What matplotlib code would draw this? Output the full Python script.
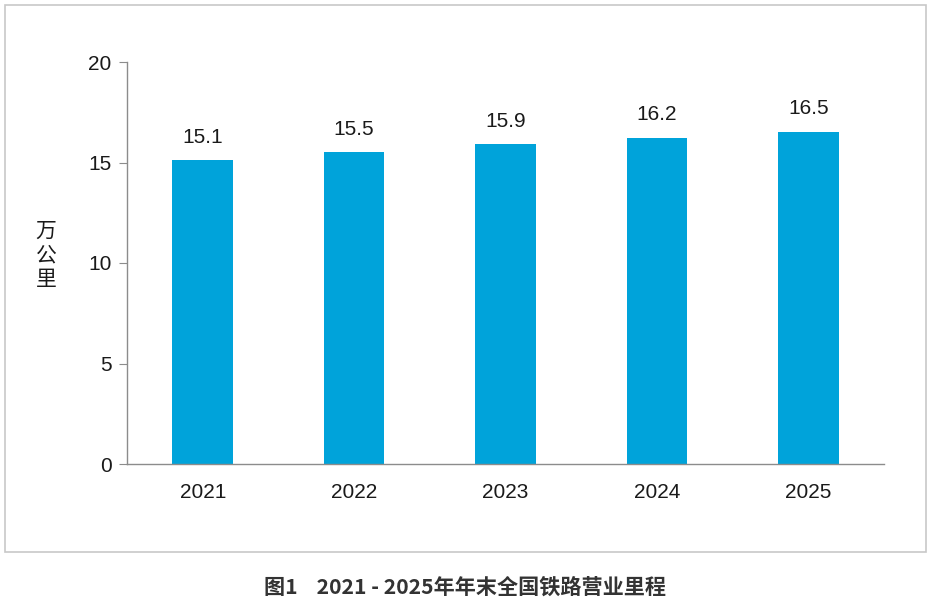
import matplotlib
matplotlib.use("Agg")
import matplotlib.pyplot as plt
from matplotlib.patches import Rectangle

years = ["2021", "2022", "2023", "2024", "2025"]
values = [15.1, 15.5, 15.9, 16.2, 16.5]
yticks = [0, 5, 10, 15, 20]
ylabel = "万公里"
title = "图1    2021 - 2025年年末全国铁路营业里程"

plt.rcParams['font.family'] = ['Liberation Sans', 'DejaVu Sans']

fig = plt.figure(figsize=(9.31, 6.02), dpi=100)
fig.patch.set_facecolor("white")

# outer frame
fig.patches.append(Rectangle((5/931, 1-552/602), 921/931, 547/602, transform=fig.transFigure,
                             fill=False, edgecolor="#c8c8c8", linewidth=1.2))

ax = fig.add_axes([127/931, 1-464/602, (884-127)/931, (464-62)/602])
x = range(len(years))
bars = ax.bar(x, values, width=0.4, color="#00a3da")
ax.set_xlim(-0.5, 4.5)
ax.set_ylim(0, 20)
ax.set_yticks(yticks)
ax.set_xticks(list(x))
ax.set_xticklabels(years)
for s in ["top", "right"]:
    ax.spines[s].set_visible(False)
for s in ["left", "bottom"]:
    ax.spines[s].set_color("#8c8c8c")
    ax.spines[s].set_linewidth(1.0)
ax.tick_params(axis="y", length=6, color="#8c8c8c", labelsize=15, labelcolor="#1a1a1a", pad=5)
ax.tick_params(axis="x", length=0, labelsize=15, labelcolor="#1a1a1a", pad=14)

for xi, v in zip(x, values):
    ax.annotate(f"{v:.1f}", (xi, v), xytext=(0, 10), textcoords="offset points",
                ha="center", va="bottom", fontsize=15, color="#1a1a1a")

fig.text(46/931, 1-255/602, "\n".join(ylabel), ha="center", va="center", fontsize=15,
         color="#1a1a1a", linespacing=1.12, family=['Noto Sans CJK SC', 'DejaVu Sans'])

fig.text(465/931, 1-587/602, title, ha="center", va="center", fontsize=15.2,
         fontweight="bold", color="#333333", family=['Noto Sans CJK SC', 'DejaVu Sans'])

fig.savefig("out.png", dpi=100)
